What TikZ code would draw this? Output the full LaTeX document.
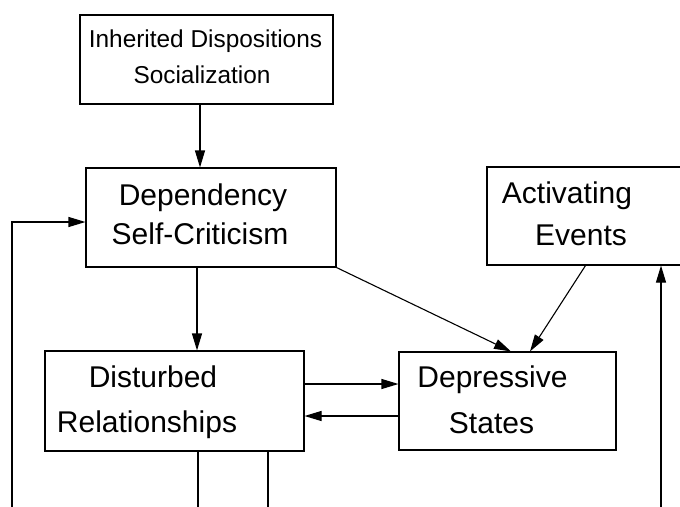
\documentclass[tikz,border=0pt]{standalone}
\usepackage{fontspec}
\setmainfont{Liberation Sans}
\usetikzlibrary{arrows.meta,calc}
\begin{document}
\begin{tikzpicture}[x=1pt,y=-1pt,
  box/.style={draw,line width=1.1pt,rectangle,inner sep=0pt},
  big/.style={font=\fontsize{30}{36}\selectfont,anchor=base,inner sep=0pt},
  small/.style={font=\fontsize{24.4}{29}\selectfont,anchor=base,inner sep=0pt},
  conn/.style={line width=1.1pt,-{Triangle[length=17pt,width=10pt]}},
  plain/.style={line width=1.1pt}]
\useasboundingbox (0,0) rectangle (680,506);
% boxes
\node[box,minimum width=253pt,minimum height=89pt] (inh) at (206.5,59.5) {};
\node[box,minimum width=250pt,minimum height=99pt] (dep) at (211,217.5) {};
\node[box,minimum width=197pt,minimum height=98pt] (act) at (585.5,216) {};
\node[box,minimum width=259pt,minimum height=100pt] (dis) at (174.5,401) {};
\node[box,minimum width=217pt,minimum height=98pt] (dst) at (507.5,401) {};
% texts
\node[small] (t1) at (205.5,47) {Inherited Dispositions};
\node[small] (t2) at (202,83) {Socialization};
\node[big] (t3) at (203,205) {Dependency};
\node[big] (t4) at (200,244) {Self-Criticism};
\node[big] (t5) at (567,203) {Activating};
\node[big] (t6) at (581,245) {Events};
\node[big] (t7) at (153,387) {Disturbed};
\node[big] (t8) at (147,432) {Relationships};
\node[big] (t9) at (492.5,387) {Depressive};
\node[big] (t10) at (491.5,433) {States};
% guide coordinates
\coordinate (x1) at (200,0);
\coordinate (x2) at (197,0);
\coordinate (y1) at (0,222);
\coordinate (y2) at (0,384);
\coordinate (y3) at (0,416);
\coordinate (lb) at (12,508);
\coordinate (rb) at (661,508);
\coordinate (d1) at (198,508);
\coordinate (d2) at (268,508);
% connectors
\draw[conn] (x1 |- inh.south) -- (x1 |- dep.north);
\draw[conn] (x2 |- dep.south) -- (x2 |- dis.north);
\draw[conn] (lb) -- (lb |- y1) -- (dep.west |- y1);
\draw[conn] (rb) -- (rb |- act.south);
\draw[conn] (dep.south east) -- ($(dst.north)+(3.5,0)$);
\draw[conn] (act.south) -- ($(dst.north)+(22.5,0)$);
\draw[conn] (dis.east |- y2) -- (dst.west |- y2);
\draw[conn] (dst.west |- y3) -- (dis.east |- y3);
\draw[plain] (d1 |- dis.south) -- (d1);
\draw[plain] (d2 |- dis.south) -- (d2);
\end{tikzpicture}
\end{document}
